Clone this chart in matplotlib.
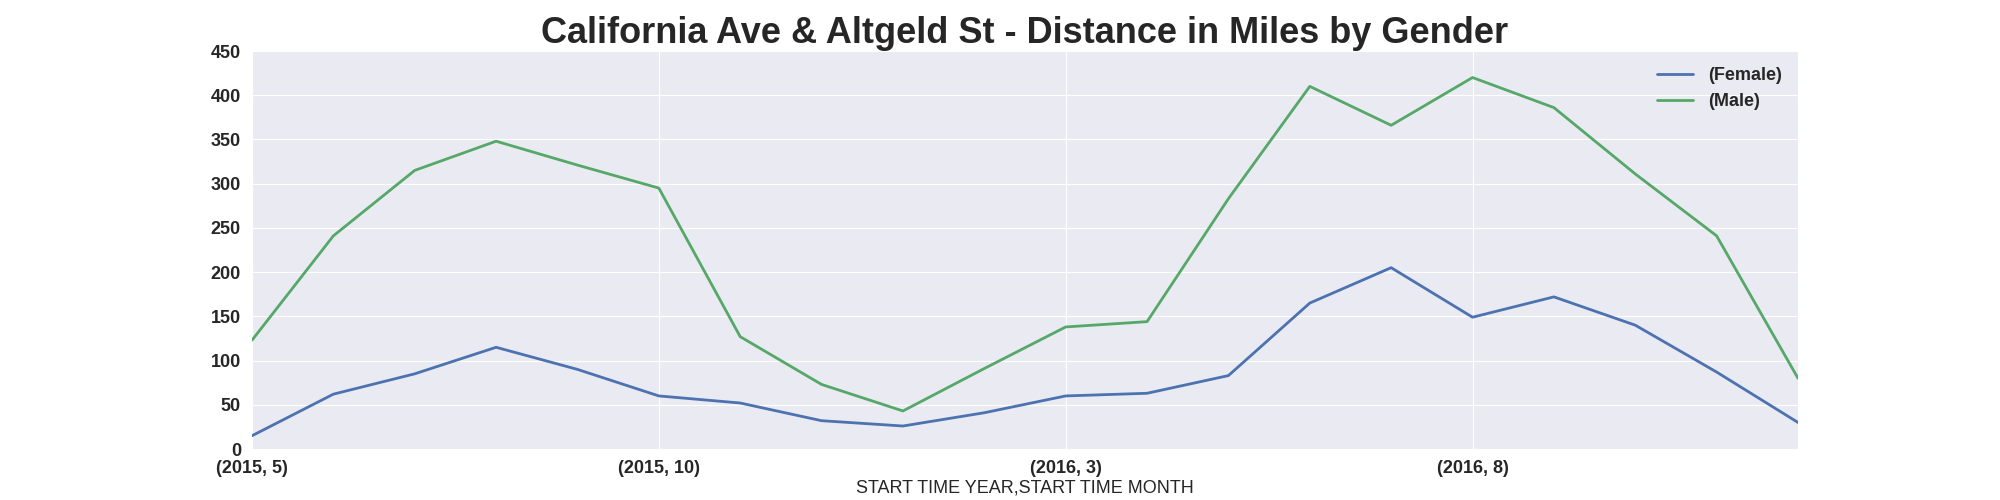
import matplotlib

matplotlib.use("Agg")
import matplotlib.pyplot as plt
import numpy as np

months = [(2015, m) for m in range(5, 13)] + [(2016, m) for m in range(1, 13)]
female = [15, 62, 85, 115, 90, 60, 52, 32, 26, 41, 60, 63, 83, 165, 205, 149, 172, 140, 87, 30]
male = [123, 241, 315, 348, 321, 295, 127, 73, 43, 91, 138, 144, 283, 410, 366, 420, 386, 311, 241, 80]
tick_idx = [0, 5, 10, 15]

plt.style.use("seaborn-v0_8-darkgrid")
fig = plt.figure(figsize=(20, 5), dpi=100)
ax = fig.add_axes([0.126, 0.102, 0.773, 0.796])

x = np.arange(len(months))
ax.plot(x, female, color="#4c72b0", lw=2, label="(Female)")
ax.plot(x, male, color="#55a868", lw=2, label="(Male)")

ax.set_xlim(0, len(months) - 1)
ax.set_ylim(0, 450)
ax.set_yticks(range(0, 451, 50))
ax.set_xticks(tick_idx)
ax.set_xticklabels([f"({months[i][0]}, {months[i][1]})" for i in tick_idx])
ax.tick_params(axis="x", pad=8)
ax.tick_params(axis="y", pad=8)
for lbl in ax.get_xticklabels() + ax.get_yticklabels():
    lbl.set_fontweight("bold")
    lbl.set_fontsize(13)
ax.set_xlabel("START TIME YEAR,START TIME MONTH", fontsize=13, labelpad=2)
ax.set_title("California Ave & Altgeld St - Distance in Miles by Gender",
             fontsize=26, fontweight="bold", pad=6)
ax.legend(loc="upper right", frameon=False, prop={"weight": "bold", "size": 13})

fig.savefig("out.png", dpi=100)
plt.close(fig)
